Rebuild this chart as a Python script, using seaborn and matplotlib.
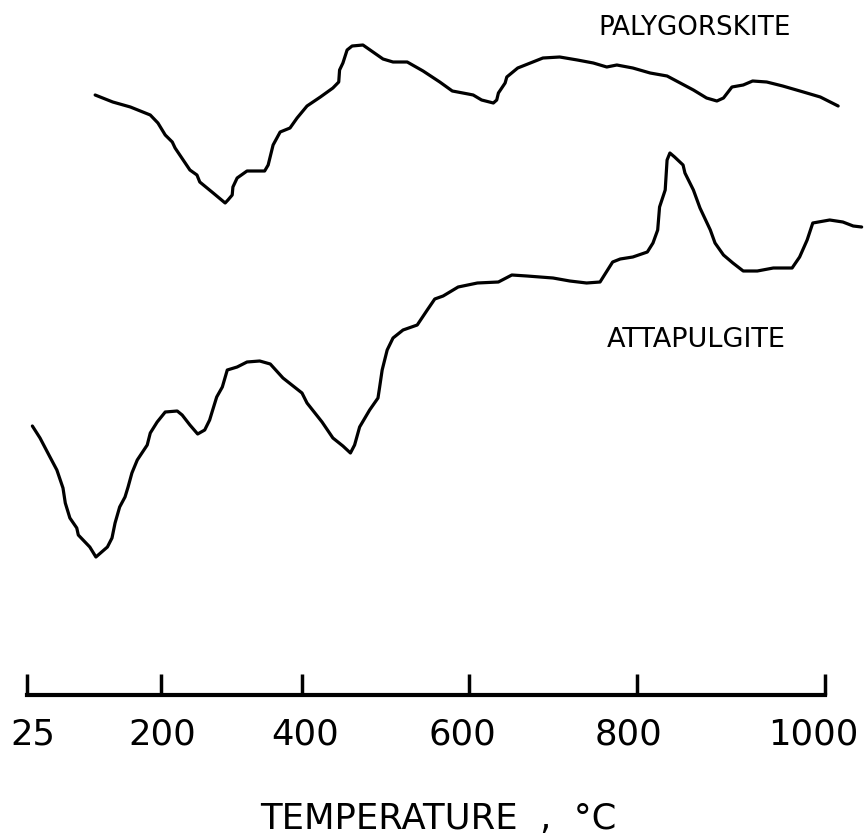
import numpy as np
import pandas as pd
import matplotlib
matplotlib.use("Agg")
import matplotlib.pyplot as plt
import matplotlib.transforms as mtransforms
import seaborn as sns

# Differential thermal curves (deflection in arbitrary recorder units)
paly_temp = [114, 137, 160, 173, 186, 196, 206, 216, 220, 241, 251, 255, 274, 291,
             295, 301, 302, 308, 322, 336, 347, 352, 359, 369, 383, 393, 406, 422,
             437, 444, 445, 449, 454, 460, 473, 485, 497, 509, 526, 545, 565, 580,
             599, 605, 615, 629, 633, 635, 643, 645, 658, 673, 688, 708, 729, 748,
             764, 776, 795, 814, 832, 846, 860, 874, 885, 892, 901, 913, 923, 938,
             955, 977, 995, 1014]
paly_dta = [605, 598, 593, 589, 585, 577, 565, 558, 552, 530, 525, 518, 507, 497,
            500, 505, 513, 522, 529, 529, 529, 535, 555, 568, 572, 582, 594, 603,
            612, 618, 630, 637, 650, 654, 655, 648, 641, 638, 638, 629, 618, 609,
            606, 605, 600, 597, 600, 607, 617, 623, 632, 637, 642, 643, 640, 637,
            633, 635, 632, 627, 624, 617, 610, 602, 599, 602, 613, 615, 619, 618,
            614, 608, 603, 594]

atta_temp = [32, 42, 55, 64, 72, 75, 81, 90, 92, 107, 115, 130, 136, 140, 146, 153,
             157, 162, 169, 182, 186, 195, 206, 223, 230, 241, 252, 262, 269, 272,
             279, 287, 294, 308, 322, 340, 355, 373, 400, 406, 424, 437, 449, 458,
             463, 469, 481, 491, 493, 496, 502, 509, 521, 538, 550, 559, 569, 587,
             610, 635, 651, 669, 700, 720, 740, 756, 771, 780, 795, 811, 817, 822,
             824, 830, 832, 835, 840, 849, 851, 860, 867, 878, 883, 892, 902, 913,
             928, 945, 965, 973, 981, 987, 1005, 1019, 1030, 1039]
atta_dta = [274, 262, 243, 230, 212, 197, 182, 172, 165, 153, 143, 153, 162, 177,
            193, 203, 213, 227, 240, 255, 267, 278, 288, 289, 285, 275, 266, 270,
            280, 287, 303, 313, 330, 333, 338, 339, 336, 322, 307, 297, 278, 262,
            254, 247, 255, 273, 290, 302, 313, 330, 350, 362, 370, 375, 390, 401,
            404, 413, 417, 418, 425, 424, 422, 419, 417, 418, 438, 441, 443, 448,
            457, 470, 493, 510, 540, 547, 543, 535, 527, 510, 492, 470, 457, 445,
            437, 429, 429, 432, 432, 443, 460, 477, 480, 478, 474, 473]

tick_temps = [25, 200, 400, 600, 800, 1000]
tick_labels = ["25", "200", "400", "600", "800", "1000"]

# Recorder chart calibration: chart position of each temperature mark
chart_pos = np.array([27.0, 161.0, 302.0, 469.0, 637.0, 825.0])
chart_temp = np.array(tick_temps, dtype=float)


def to_chart(t):
    t = np.asarray(t, dtype=float)
    p = np.interp(t, chart_temp, chart_pos)
    lo_slope = (chart_pos[1] - chart_pos[0]) / (chart_temp[1] - chart_temp[0])
    hi_slope = (chart_pos[-1] - chart_pos[-2]) / (chart_temp[-1] - chart_temp[-2])
    p = np.where(t < chart_temp[0], chart_pos[0] + (t - chart_temp[0]) * lo_slope, p)
    p = np.where(t > chart_temp[-1], chart_pos[-1] + (t - chart_temp[-1]) * hi_slope, p)
    return p


def from_chart(p):
    p = np.asarray(p, dtype=float)
    t = np.interp(p, chart_pos, chart_temp)
    lo_slope = (chart_temp[1] - chart_temp[0]) / (chart_pos[1] - chart_pos[0])
    hi_slope = (chart_temp[-1] - chart_temp[-2]) / (chart_pos[-1] - chart_pos[-2])
    t = np.where(p < chart_pos[0], chart_temp[0] + (p - chart_pos[0]) * lo_slope, t)
    t = np.where(p > chart_pos[-1], chart_temp[-1] + (p - chart_pos[-1]) * hi_slope, t)
    return t


sns.set_theme(style="white")
plt.rcParams["font.family"] = ["DejaVu Sans"]

fig = plt.figure(figsize=(8.64, 8.38), dpi=100)
ax = fig.add_axes([0, 0, 1, 1])
ax.set_xscale("function", functions=(to_chart, from_chart))

paly = pd.DataFrame({"temp": paly_temp, "dta": paly_dta})
atta = pd.DataFrame({"temp": atta_temp, "dta": atta_dta})
for df in (paly, atta):
    sns.lineplot(data=df, x="temp", y="dta", ax=ax, color="black", lw=2.3,
                 sort=False, estimator=None)

ax.set_xlim(float(from_chart(0)), float(from_chart(864)))
ax.set_ylim(-138, 700)

for side in ("top", "right", "left"):
    ax.spines[side].set_visible(False)
bottom = ax.spines["bottom"]
bottom.set_position(("data", 5))
bottom.set_bounds(25, 1000)
bottom.set_linewidth(3.0)
bottom.set_color("black")

ax.set_xticks(tick_temps)
ax.set_xticklabels(tick_labels)
ax.xaxis.set_minor_locator(matplotlib.ticker.NullLocator())
ax.tick_params(axis="x", direction="in", length=15, width=2.5, color="black",
               labelsize=25.5, pad=16, labelcolor="black", bottom=True)
ax.set_yticks([])
ax.set_xlabel("")
ax.set_ylabel("")

# hand-lettered labels sit slightly off their tick marks
label_shift_px = [6, 1, 3, -7, -9, -12]
for lab, dx in zip(ax.get_xticklabels(), label_shift_px):
    lab.set_transform(lab.get_transform()
                      + mtransforms.ScaledTranslation(dx / 100, 0, fig.dpi_scale_trans))

ax.text(0.507, 0.043, "TEMPERATURE  ,  °C", transform=ax.transAxes,
        ha="center", va="top", fontsize=25.5, color="black")
ax.text(598 / 864, 1 - 15 / 838, "PALYGORSKITE", transform=ax.transAxes,
        ha="left", va="top", fontsize=18.8, color="black")
ax.text(607 / 864, 1 - 327 / 838, "ATTAPULGITE", transform=ax.transAxes,
        ha="left", va="top", fontsize=19.5, color="black")

fig.savefig("out.png", dpi=100, facecolor="white")
